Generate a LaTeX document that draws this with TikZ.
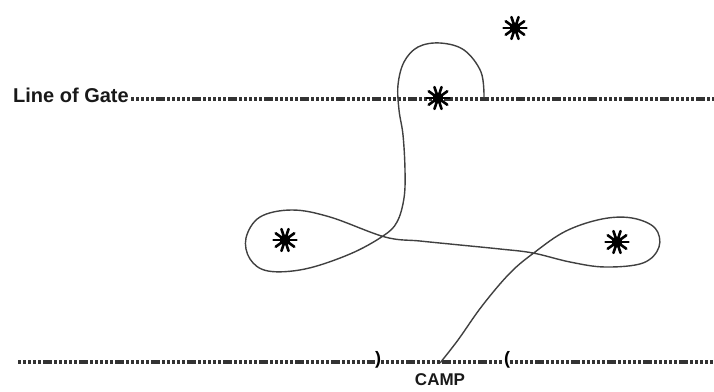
\documentclass[tikz,border=0pt]{standalone}
\usepackage{fontspec}
\setmainfont{Liberation Sans}
\begin{document}
\begin{tikzpicture}[x=1pt,y=-1pt,
  gateline/.style={line width=3.4pt, color=black!80, dash pattern=on 3pt off 2pt on 3pt off 2pt on 3pt off 2pt on 3pt off 2pt on 3pt off 2pt on 9pt off 2pt},
  trail/.style={line width=1.4pt, color=black!75, line join=round},
  lbl/.style={font=\bfseries\fontsize{17}{17}\selectfont, inner sep=0pt, text=black!90},
  paren/.style={font=\bfseries\fontsize{18}{18}\selectfont, inner sep=0pt},
  flag/.pic={\fill circle (5.5);
    \foreach \a in {0,36,...,324} \draw[line width=2.6pt, line cap=round] (0,0) -- (\a:11.5);}]
\useasboundingbox (0,0) rectangle (714,391);
% Line of Gate
\node[lbl, font=\bfseries\fontsize{20}{20}\selectfont, anchor=base west] (gate) at (13,102) {Line of Gate};
\coordinate (g0) at (131,99);
\coordinate (g1) at (714,99);
\draw[gateline] (g0) -- (g1);
% bottom line
\coordinate (b0) at (18,362);
\coordinate (b1) at (714,362);
\node[paren] (rp) at (378,360) {)};
\node[paren] (lp) at (507,360) {(};
\draw[gateline] (b0) -- (b0 -| rp.west);
\draw[gateline] (rp.east |- b0) -- (b0 -| lp.west);
\draw[gateline] (lp.east |- b0) -- (b1);
\node[lbl, anchor=north] (camp) at (440,373) {CAMP};
% stars
\coordinate (s1) at (515,28);
\coordinate (s2) at (438,98);
\coordinate (s3) at (285,240);
\coordinate (s4) at (617,242);
\foreach \s in {s1,s2,s3,s4} \pic at (\s) {flag};
% trail
\draw[trail] plot[smooth, tension=0.6] coordinates {
 (484,98) (481,72) (464,50) (440,43) (418,47) (404,62) (398,85) (399,110)
 (403,135) (405,170) (404,198) (397,222) (383,236) (350,254) (305,269)
 (268,271) (250,259) (246,238) (260,217) (292,210) (330,217) (385,237)
 (420,241) (460,245) (500,249) (533,253) (570,262) (605,267) (643,263)
 (659,247) (655,228) (632,218) (602,219) (566,231) (535,252) (510,273)
 (482,306) (458,340) (440,363)};
\end{tikzpicture}
\end{document}
